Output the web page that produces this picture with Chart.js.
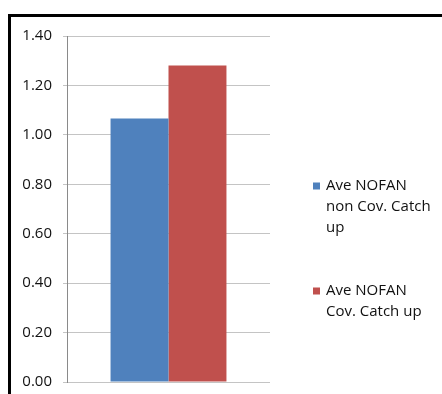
<!DOCTYPE html>
<html>
<head>
<meta charset="utf-8">
<script src="https://cdn.jsdelivr.net/npm/chart.js@4"></script>
<style>
  html, body { margin: 0; padding: 0; background: #fff; }
  #wrap { width: 442px; height: 394px; }
</style>
</head>
<body>
<div id="wrap"><canvas id="avg" width="442" height="394"></canvas></div>
<script>
// values
var categories = [''];
var seriesNames = [
  ['Ave NOFAN', 'non Cov. Catch', 'up'],
  ['Ave NOFAN', 'Cov. Catch up']
];
var nonCovValues = [1.066];
var covValues = [1.281];
var yTicks = [0, 0.2, 0.4, 0.6, 0.8, 1.0, 1.2, 1.4];

var FONT = '"Open Sans", "Liberation Sans", sans-serif';

// black frame on the top and left edge, like the cropped screenshot
var framePlugin = {
  id: 'frame',
  beforeDraw: function(chart) {
    var ctx = chart.ctx;
    ctx.save();
    ctx.fillStyle = '#000';
    ctx.fillRect(8, 14, 434, 3);
    ctx.fillRect(8, 14, 3, 380);
    ctx.restore();
  }
};

// legend with wrapped lines, drawn to the right of the plot
var sideLegend = {
  id: 'sideLegend',
  afterDraw: function(chart) {
    var ctx = chart.ctx;
    var x = chart.chartArea.right + 43;
    var tops = [186, 291];
    ctx.save();
    ctx.font = '15px ' + FONT;
    ctx.textBaseline = 'middle';
    chart.data.datasets.forEach(function(ds, i) {
      var y = tops[i];
      ctx.fillStyle = ds.backgroundColor;
      ctx.fillRect(x, y - 3.5, 7, 7);
      ctx.fillStyle = '#111';
      ds.label.forEach(function(line, j) {
        ctx.fillText(line, x + 13, y + j * 20.7);
      });
    });
    ctx.restore();
  }
};

var avgChart = new Chart(document.getElementById('avg'), {
  type: 'bar',
  data: {
    labels: categories,
    datasets: [{
      label: seriesNames[0],
      data: nonCovValues,
      backgroundColor: '#4F81BD',
      borderWidth: 0
    }, {
      label: seriesNames[1],
      data: covValues,
      backgroundColor: '#C0504D',
      borderWidth: 0
    }]
  },
  options: {
    responsive: false,
    animation: false,
    categoryPercentage: 0.571,
    barPercentage: 1.0,
    layout: {
      padding: { top: 36, bottom: 12, right: 172, left: 0 }
    },
    plugins: {
      legend: { display: false },
      tooltip: { enabled: false }
    },
    scales: {
      x: {
        display: false
      },
      y: {
        min: 0,
        max: 1.4,
        afterBuildTicks: function(scale) {
          scale.ticks = yTicks.map(function(v) { return { value: v }; });
        },
        afterFit: function(scale) {
          scale.width = 67;
          scale.paddingTop = 0;
          scale.paddingBottom = 0;
        },
        grid: {
          color: '#c4c4c4',
          tickColor: '#c4c4c4',
          tickLength: 4,
          lineWidth: 1
        },
        border: {
          color: '#8a8a8a',
          width: 1
        },
        ticks: {
          padding: 11,
          color: '#111',
          font: { family: FONT, size: 15 },
          callback: function(value) {
            return Number(value).toFixed(2);
          }
        }
      }
    }
  },
  plugins: [framePlugin, sideLegend]
});
</script>
</body>
</html>
